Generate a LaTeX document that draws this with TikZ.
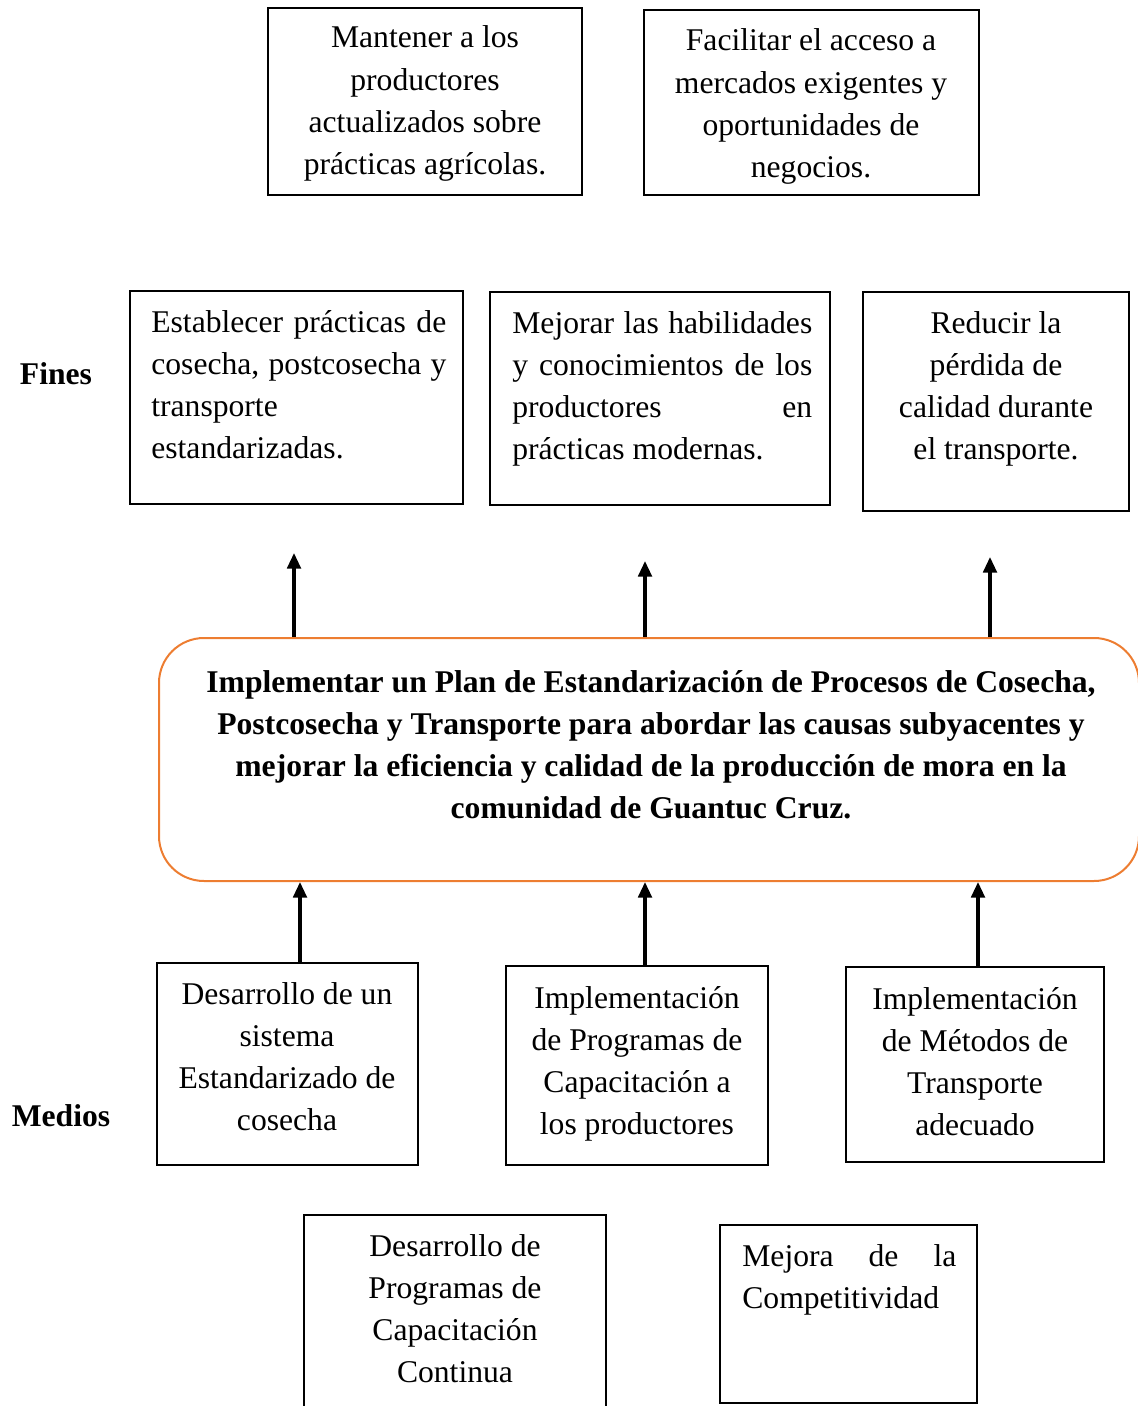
\documentclass[tikz,border=0pt]{standalone}
\usepackage{fontspec}
\setmainfont{Liberation Serif}
\usetikzlibrary{arrows.meta, fit}
\definecolor{planColor}{RGB}{237, 125, 49}

\begin{document}
\begin{tikzpicture}[
    x=0.02cm, y=-0.02cm,
    box/.style={rectangle, draw, line width=0.04cm, inner sep=0pt},
    plan/.style={rectangle, draw=planColor, line width=0.04cm, rounded corners=0.9cm, inner sep=0pt},
    txt/.style={anchor=base, inner sep=0pt, align=flush center, font=\fontsize{18}{24.05}\selectfont},
    jtxt/.style={txt, anchor=base west, align=justify},
    tag/.style={anchor=base, inner sep=0pt, font=\fontsize{18}{24.05}\selectfont\bfseries},
    arrow/.style={-{Triangle[length=0.31cm, width=0.27cm]}, line width=0.065cm}
]
    \useasboundingbox (0,0) rectangle (1138,1406);

    % Upper goals
    \node[box, fit={(268,8) (582,195)}] (mant) {};
    \node[txt, text width=5.8cm] (mant-t) at (425,48) {Mantener a los\\productores\\actualizados sobre\\prácticas agrícolas.};
    \node[box, fit={(644,10) (979,195)}] (merc) {};
    \node[txt, text width=6.3cm] (merc-t) at (811,51) {Facilitar el acceso a\\mercados exigentes y\\oportunidades de\\negocios.};

    % Fines
    \node[tag] (fines) at (56,384) {Fines};
    \node[box, fit={(130,291) (463,504)}] (fin1) {};
    \node[jtxt, text width=5.9cm] (fin1-t) at (151,332) {Establecer prácticas de\linebreak cosecha, postcosecha y\linebreak transporte\newline estandarizadas.};
    \node[box, fit={(490,292) (830,505)}] (fin2) {};
    \node[jtxt, text width=6.0cm] (fin2-t) at (512,333) {Mejorar las habilidades\linebreak y conocimientos de los\linebreak productores en\linebreak prácticas modernas.};
    \node[box, fit={(863,292) (1129,511)}] (fin3) {};
    \node[txt, text width=4.9cm] (fin3-t) at (996,333) {Reducir la\\pérdida de\\calidad durante\\el transporte.};

    % Central objective
    \node[plan, fit={(159,638) (1139,881)}] (plan) {};
    \node[txt, text width=19cm, font=\fontsize{18}{24.05}\selectfont\bfseries] (plan-t) at (651,692) {Implementar un Plan de Estandarización de Procesos de Cosecha,\\Postcosecha y Transporte para abordar las causas subyacentes y\\mejorar la eficiencia y calidad de la producción de mora en la\\comunidad de Guantuc Cruz.};

    % Medios
    \node[tag] (medios) at (61,1126) {Medios};
    \node[box, fit={(157,963) (418,1165)}] (med1) {};
    \node[txt, text width=4.8cm] (med1-t) at (287,1004) {Desarrollo de un\\sistema\\Estandarizado de\\cosecha};
    \node[box, fit={(506,966) (768,1165)}] (med2) {};
    \node[txt, text width=4.8cm] (med2-t) at (637,1008) {Implementación\\de Programas de\\Capacitación a\\los productores};
    \node[box, fit={(846,967) (1104,1162)}] (med3) {};
    \node[txt, text width=4.8cm] (med3-t) at (975,1009) {Implementación\\de Métodos de\\Transporte\\adecuado};

    % Lower means
    \node[box, fit={(304,1215) (606,1430)}] (cont) {};
    \node[txt, text width=5.6cm] (cont-t) at (455,1256) {Desarrollo de\\Programas de\\Capacitación\\Continua};
    \node[box, fit={(720,1225) (977,1403)}] (comp) {};
    \node[jtxt, text width=4.28cm] (comp-t) at (742,1266) {Mejora de la\linebreak Competitividad};

    % Arrows
    \coordinate (upA) at (294,553);
    \coordinate (upB) at (645,561);
    \coordinate (upC) at (990,557);
    \coordinate (colA) at (300,0);
    \coordinate (colB) at (645,0);
    \coordinate (colC) at (978,0);
    \draw[arrow] (plan.north -| upA) -- (upA);
    \draw[arrow] (plan.north -| upB) -- (upB);
    \draw[arrow] (plan.north -| upC) -- (upC);
    \draw[arrow] (med1.north -| colA) -- (plan.south -| colA);
    \draw[arrow] (med2.north -| colB) -- (plan.south -| colB);
    \draw[arrow] (med3.north -| colC) -- (plan.south -| colC);

\end{tikzpicture}
\end{document}
